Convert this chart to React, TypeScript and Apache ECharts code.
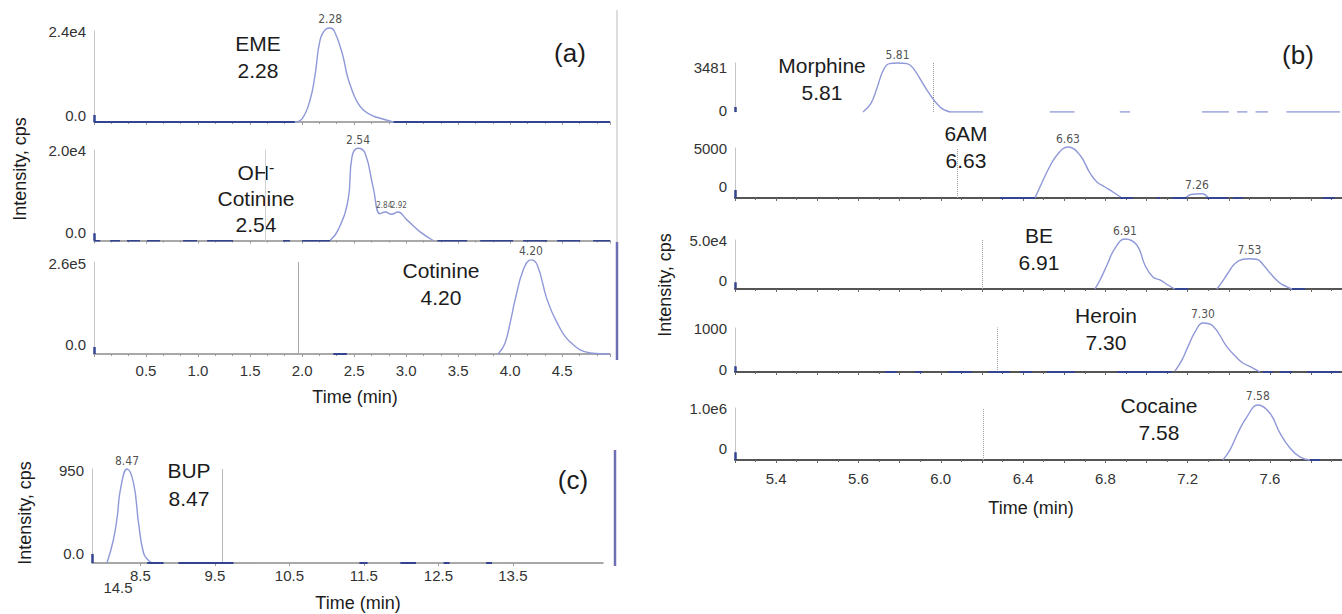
import React, { useEffect, useRef } from 'react';
import * as echarts from 'echarts';

// ---------------- DATA ----------------
const xTicksA = [0.5, 1.0, 1.5, 2.0, 2.5, 3.0, 3.5, 4.0, 4.5];
const xTickLabelsA = ['0.5', '1.0', '1.5', '2.0', '2.5', '3.0', '3.5', '4.0', '4.5'];
const xTicksB = [5.2, 5.6, 6.0, 6.4, 6.8, 7.2, 7.6];
const xTickLabelsB = ['5.4', '5.6', '6.0', '6.4', '6.8', '7.2', '7.6'];
const xTicksC = [8.5, 9.5, 10.5, 11.5, 12.5, 13.5];
const xTickLabelsC = ['8.5', '9.5', '10.5', '11.5', '12.5', '13.5'];
const strayLabelC = '14.5';

const yLabelsA = [['0.0', '2.4e4'], ['0.0', '2.0e4'], ['0.0', '2.6e5']];
const yMaxA = [24000, 20000, 260000];
const yLabelsB = [['0', '3481'], ['0', '5000'], ['0', '5.0e4'], ['0', '1000'], ['0', '1.0e6']];
const yMaxB = [3481, 5000, 50000, 1000, 1000000];
const yLabelsC = ['0.0', '950'];
const yMaxC = 950;

const emeTrace = [[1.93, 0], [2.0, 800], [2.077, 5800], [2.125, 12400], [2.173, 21600], [2.23, 24500], [2.27, 24800], [2.31, 24000], [2.385, 18200], [2.433, 12400], [2.462, 9800], [2.52, 5800], [2.587, 3200], [2.68, 1600], [2.75, 1000], [2.875, 0]];
const ohCotTrace = [[2.269, 0], [2.346, 2300], [2.442, 8900], [2.48, 18500], [2.538, 20400], [2.606, 19300], [2.683, 11800], [2.75, 5900], [2.80, 6300], [2.86, 5800], [2.92, 6300], [3.01, 4500], [3.135, 1900], [3.26, 0]];
const cotTrace = [[3.885, 0], [3.95, 30000], [4.0, 88000], [4.048, 153000], [4.125, 237000], [4.20, 266000], [4.26, 252000], [4.356, 153000], [4.452, 88000], [4.577, 34000], [4.77, 3000], [4.96, 0]];
const morphTrace = [[5.622, 0], [5.66, 600], [5.69, 1700], [5.72, 2950], [5.75, 3440], [5.79, 3481], [5.836, 3440], [5.865, 3130], [5.933, 1560], [5.996, 360], [6.045, 0]];
const sixAmTrace = [[6.458, 0], [6.482, 1100], [6.521, 2800], [6.565, 4300], [6.618, 5100], [6.676, 4300], [6.725, 2500], [6.759, 1600], [6.798, 1100], [6.837, 600], [6.88, 0]];
const sixAmMinorTrace = [[7.19, 0], [7.215, 350], [7.27, 420], [7.30, 0]];
const beTrace = [[6.749, 0], [6.774, 9200], [6.808, 24500], [6.847, 41800], [6.895, 51000], [6.953, 44900], [6.992, 24500], [7.031, 12200], [7.065, 9200], [7.104, 4100], [7.138, 0]];
const be753Trace = [[7.342, 0], [7.37, 8000], [7.396, 16300], [7.43, 26000], [7.468, 30400], [7.50, 30800], [7.536, 30400], [7.57, 24000], [7.60, 16300], [7.648, 6100], [7.68, 2500], [7.707, 0]];
const heroinTrace = [[7.138, 20], [7.172, 270], [7.201, 570], [7.236, 910], [7.274, 1114], [7.323, 1045], [7.391, 570], [7.44, 320], [7.468, 205], [7.517, 90], [7.551, 0]];
const cocaineTrace = [[7.371, 0], [7.405, 190000], [7.444, 520000], [7.488, 830000], [7.541, 1058000], [7.6, 900000], [7.648, 520000], [7.697, 230000], [7.745, 60000], [7.794, 0]];
const bupTrace = [[8.051, 0], [8.136, 230], [8.19, 475], [8.23, 737], [8.32, 950], [8.408, 808], [8.475, 402], [8.543, 98], [8.606, 28], [8.66, 0]];

const emeBase = [[0, 1.93], [2.88, 4.96]];
const ohCotBase = [[0, 0.06], [0.154, 0.25], [0.317, 0.442], [0.51, 0.635], [0.856, 0.99], [1.087, 1.337], [1.817, 1.885], [2.0, 2.27], [3.3, 3.587], [3.712, 4.029], [4.125, 4.356], [4.452, 4.673], [4.798, 4.96]];
const cotBase = [[2.3, 2.43]];
const morphBase = [[6.045, 6.205], [6.53, 6.65], [6.87, 6.92], [7.27, 7.40], [7.44, 7.49], [7.53, 7.59], [7.68, 7.94]];
const sixAmBase = [[6.288, 6.458], [6.871, 6.934], [7.05, 7.065], [7.123, 7.196], [7.293, 7.395], [7.42, 7.468], [7.857, 7.915]];
const beBase = [[7.138, 7.201], [7.707, 7.77]];
const heroinBase = [[5.729, 5.787], [5.875, 5.909], [6.035, 6.152], [6.229, 6.336], [6.385, 6.443], [6.516, 6.652], [6.856, 7.123], [7.566, 7.614], [7.648, 7.707], [7.78, 7.94]];
const cocaineBase = [[7.794, 7.843]];
const bupBase = [[8.59, 8.81], [9.01, 9.75], [11.44, 11.55], [11.99, 12.2], [12.57, 12.65], [13.14, 13.22]];

const stubsA = [1850, 1600, 20000];
const stubsB = [350, 800, 7000, 130, 150000];
const stubC = 90;

const markersA = [null, [1.644, 20600], [1.96, 260000]];
const markersB = [[5.962, 3481], [6.079, 5000], [6.20, 50000], [6.273, 1110], [6.205, 1000000]];
const markerC = [9.595, 950];

const emeTags = [[2.27, 24800, '2.28']];
const ohCotTags = [[2.538, 20400, '2.54']];
const ohCotMinorTags = [[2.79, 6300, '2.84'], [2.93, 6300, '2.92']];
const cotTags = [[4.20, 266000, '4.20']];
const morphTags = [[5.79, 3481, '5.81']];
const sixAmTags = [[6.618, 5100, '6.63'], [7.245, 420, '7.26']];
const beTags = [[6.895, 51000, '6.91'], [7.50, 30800, '7.53']];
const heroinTags = [[7.274, 1114, '7.30']];
const cocaineTags = [[7.541, 1058000, '7.58']];
const bupTags = [[8.32, 950, '8.47']];

const compoundLines = [['EME', '2.28'], ['OH-', 'Cotinine', '2.54'], ['Cotinine', '4.20'], ['Morphine', '5.81'], ['6AM', '6.63'], ['BE', '6.91'], ['Heroin', '7.30'], ['Cocaine', '7.58'], ['BUP', '8.47']];
const panelLetters = ['(a)', '(b)', '(c)'];
const axisTitleX = 'Time (min)';
const axisTitleY = 'Intensity, cps';

// ---------------- STYLE / LAYOUT ----------------
const FONT = '"Liberation Sans", Arial, Helvetica, sans-serif';
const NARROW = '"Liberation Sans Narrow", "DejaVu Sans Condensed", "Liberation Sans", sans-serif';
const TRACE = '#8f98d8';
const DARK = '#34448f';
const TEXT = '#1c1c1c';

const compoundPos = [[258, 43, 27], [256, 172, 26], [441, 270, 27], [822, 65, 27], [966, 133, 27], [1039, 235, 27], [1106, 315, 27], [1159, 405, 27], [189, 470, 28]];
const letterPos = [[570, 53], [1298, 55], [573, 480]];
const xTitlePos = [[355, 397], [1031, 508], [358, 603]];
const yTitlePos = [[20, 169], [665, 285], [25, 513]];

const axisCfg: any = {
  a: { min: 0, max: 4.96, interval: 0.5, minorSplit: 3, labelVals: xTicksA, labelTexts: xTickLabelsA, lineColor: '#8c8c8c', lineWidth: 1.5, margin: 9 },
  b: { min: 5.0, max: 7.95, interval: 0.2, minorSplit: 2, labelVals: xTicksB, labelTexts: xTickLabelsB, lineColor: '#555', lineWidth: 2, margin: 11 },
  c: { min: 7.85, max: 14.71, minorSplit: 0, labelVals: xTicksC, labelTexts: xTickLabelsC, lineColor: '#8c8c8c', lineWidth: 1.5, margin: 5 },
};

function buildOption() {
  const subs: any[] = [
    { panel: 'a', g: [94, 31, 516, 91], traces: [emeTrace], base: emeBase, baseColor: DARK, stub: stubsA[0], marker: markersA[0], tags: emeTags, minorTags: [], yMax: yMaxA[0], yLabels: yLabelsA[0], showLine: true, showLabels: false, lift: 7, drop: 0 },
    { panel: 'a', g: [94, 150, 516, 90.5], traces: [ohCotTrace], base: ohCotBase, baseColor: DARK, stub: stubsA[1], marker: markersA[1], tags: ohCotTags, minorTags: ohCotMinorTags, yMax: yMaxA[1], yLabels: yLabelsA[1], showLine: true, showLabels: false, lift: 8, drop: 0, markerColor: '#d0d0d0', markerType: 'solid' },
    { panel: 'a', g: [94, 262, 516, 92], traces: [cotTrace], base: cotBase, baseColor: DARK, stub: stubsA[2], marker: markersA[2], tags: cotTags, minorTags: [], yMax: yMaxA[2], yLabels: yLabelsA[2], showLine: true, showLabels: true, lift: 10, drop: 1, markerColor: '#a8a8a8', markerType: 'solid' },
    { panel: 'b', g: [735, 63, 607, 49], traces: [morphTrace], base: morphBase, baseColor: TRACE, baseWidth: 1.5, stub: stubsB[0], marker: markersB[0], tags: morphTags, minorTags: [], yMax: yMaxB[0], yLabels: yLabelsB[0], showLine: false, showLabels: false, lift: 2, drop: 4 },
    { panel: 'b', g: [735, 148, 607, 50], traces: [sixAmTrace, sixAmMinorTrace], base: sixAmBase, baseColor: DARK, stub: stubsB[1], marker: markersB[1], tags: sixAmTags, minorTags: [], yMax: yMaxB[1], yLabels: yLabelsB[1], showLine: true, showLabels: false, lift: 12, drop: 0 },
    { panel: 'b', g: [735, 240, 607, 49], traces: [beTrace, be753Trace], base: beBase, baseColor: DARK, stub: stubsB[2], marker: markersB[2], tags: beTags, minorTags: [], yMax: yMaxB[2], yLabels: yLabelsB[2], showLine: true, showLabels: false, lift: 9, drop: 0 },
    { panel: 'b', g: [735, 328, 607, 44], traces: [heroinTrace], base: heroinBase, baseColor: DARK, stub: stubsB[3], marker: markersB[3], tags: heroinTags, minorTags: [], yMax: yMaxB[3], yLabels: yLabelsB[3], showLine: true, showLabels: false, lift: 3, drop: 0 },
    { panel: 'b', g: [735, 408, 607, 52], traces: [cocaineTrace], base: cocaineBase, baseColor: DARK, stub: stubsB[4], marker: markersB[4], tags: cocaineTags, minorTags: [], yMax: yMaxB[4], yLabels: yLabelsB[4], showLine: true, showLabels: true, lift: 12, drop: 0 },
    { panel: 'c', g: [92, 469, 511, 94], traces: [bupTrace], base: bupBase, baseColor: DARK, stub: stubC, marker: markerC, tags: bupTags, minorTags: [], yMax: yMaxC, yLabels: yLabelsC, showLine: true, showLabels: true, lift: 10, drop: 1, markerColor: '#b8b8b8', markerType: 'solid' },
  ];

  const grid: any[] = [];
  const xAxis: any[] = [];
  const yAxis: any[] = [];
  const series: any[] = [];

  subs.forEach((s, i) => {
    const ax = axisCfg[s.panel];
    const xMin = ax.min;
    grid.push({ left: s.g[0], top: s.g[1], width: s.g[2], height: s.g[3], containLabel: false });
    const tickColor = s.panel === 'b' ? '#666' : '#9a9a9a';
    xAxis.push({
      type: 'value', gridIndex: i, min: xMin, max: ax.max,
      interval: ax.interval,
      axisLine: { show: s.showLine, onZero: true, lineStyle: { color: ax.lineColor, width: ax.lineWidth } },
      axisTick: { show: s.showLine, length: 3, lineStyle: { color: tickColor, width: 1 }, customValues: s.panel === 'c' ? ax.labelVals : undefined },
      minorTick: { show: s.showLine && !!ax.minorSplit, splitNumber: ax.minorSplit || 5, length: 2, lineStyle: { color: tickColor, width: 1 } },
      axisLabel: {
        show: s.showLabels, customValues: ax.labelVals, margin: ax.margin, fontSize: 15, color: '#333', fontFamily: FONT,
        formatter: (v: number) => {
          const idx = ax.labelVals.findIndex((t: number) => Math.abs(t - v) < 1e-6);
          return idx >= 0 ? ax.labelTexts[idx] : '';
        },
      },
      splitLine: { show: false }, minorSplitLine: { show: false },
    });
    // data axis (line only)
    const dataAxisIndex = yAxis.length;
    yAxis.push({
      type: 'value', gridIndex: i, min: 0, max: s.yMax, position: 'left',
      axisLine: { show: true, onZero: false, lineStyle: { color: '#c4c4c4', width: 1 } },
      axisTick: { show: false }, splitLine: { show: false }, axisLabel: { show: false },
    });
    // label axis: same grid, range shifted so the two labels sit where the figure prints them
    const h = s.g[3];
    const R = (s.yMax * h) / (h - s.drop - s.lift);
    const m0 = (-s.lift * R) / h;
    yAxis.push({
      type: 'value', gridIndex: i, min: m0, max: m0 + R, position: 'left', offset: 0,
      axisLine: { show: false, onZero: false }, axisTick: { show: false }, splitLine: { show: false },
      axisLabel: {
        show: true, customValues: [0, s.yMax], margin: 8, fontSize: 15, color: '#333', fontFamily: FONT,
        showMinLabel: true, showMaxLabel: true,
        formatter: (v: number) => (Math.abs(v) < 1e-9 ? s.yLabels[0] : s.yLabels[1]),
      },
    });

    s.traces.forEach((tr: number[][]) => {
      series.push({
        type: 'line', xAxisIndex: i, yAxisIndex: dataAxisIndex, data: tr, smooth: 0.45,
        symbol: 'none', clip: false, silent: true, z: 3,
        lineStyle: { color: TRACE, width: 1.4 },
      });
    });

    series.push({
      type: 'lines', coordinateSystem: 'cartesian2d', xAxisIndex: i, yAxisIndex: dataAxisIndex, silent: true, z: 4,
      data: s.base.map((seg: number[]) => ({ coords: [[seg[0], 0], [seg[1], 0]] })),
      lineStyle: { color: s.baseColor, width: s.baseWidth || 2, opacity: 1, curveness: 0 },
    });
    series.push({
      type: 'lines', coordinateSystem: 'cartesian2d', xAxisIndex: i, yAxisIndex: dataAxisIndex, silent: true, z: 5,
      data: [{ coords: [[xMin, 0], [xMin, s.stub]] }],
      lineStyle: { color: DARK, width: 2.5, opacity: 1, curveness: 0 },
    });
    if (s.marker) {
      series.push({
        type: 'lines', coordinateSystem: 'cartesian2d', xAxisIndex: i, yAxisIndex: dataAxisIndex, silent: true, z: 2,
        data: [{ coords: [[s.marker[0], 0], [s.marker[0], s.marker[1]]] }],
        lineStyle: { color: s.markerColor || '#9c9c9c', width: 1, opacity: 1, type: s.markerType || 'dotted', curveness: 0 },
      });
    }
    const tagSeries = (tags: any[], size: number) => ({
      type: 'scatter', xAxisIndex: i, yAxisIndex: dataAxisIndex, silent: true, clip: false, z: 6,
      symbolSize: 1, itemStyle: { color: 'rgba(0,0,0,0)' },
      data: tags.map((t: any[]) => ({ value: [t[0], t[1]], name: t[2] })),
      label: { show: true, position: 'top', distance: 2, formatter: '{b}', fontSize: size, color: '#222', fontFamily: NARROW },
    });
    series.push(tagSeries(s.tags, 12));
    if (s.minorTags.length) series.push(tagSeries(s.minorTags, 8));
  });

  const graphic: any[] = [];
  compoundLines.forEach((lines, k) => {
    const [cx, cy, step] = compoundPos[k];
    lines.forEach((ln, j) => {
      const isOH = ln === 'OH-';
      graphic.push({
        type: 'text', x: cx, y: cy + j * step, silent: true,
        style: isOH
          ? { text: '{a|OH}{b|-}', align: 'center', verticalAlign: 'middle', fill: TEXT, rich: { a: { fontSize: 21, fontFamily: FONT, fill: TEXT }, b: { fontSize: 16, fontFamily: FONT, fill: TEXT, padding: [0, 0, 10, 0] } } }
          : { text: ln, align: 'center', verticalAlign: 'middle', fontSize: 21, fontFamily: FONT, fill: TEXT },
      });
    });
  });
  panelLetters.forEach((t, k) => {
    graphic.push({ type: 'text', x: letterPos[k][0], y: letterPos[k][1], silent: true, style: { text: t, align: 'center', verticalAlign: 'middle', fontSize: 26, fontFamily: FONT, fill: TEXT } });
  });
  xTitlePos.forEach((p) => {
    graphic.push({ type: 'text', x: p[0], y: p[1], silent: true, style: { text: axisTitleX, align: 'center', verticalAlign: 'middle', fontSize: 18, fontFamily: FONT, fill: TEXT } });
  });
  yTitlePos.forEach((p) => {
    graphic.push({ type: 'text', x: p[0], y: p[1], rotation: Math.PI / 2, silent: true, style: { text: axisTitleY, align: 'center', verticalAlign: 'middle', fontSize: 18, fontFamily: FONT, fill: TEXT } });
  });
  graphic.push({ type: 'text', x: 118, y: 587, silent: true, style: { text: strayLabelC, align: 'center', verticalAlign: 'middle', fontSize: 15, fontFamily: FONT, fill: '#333' } });
  graphic.push({ type: 'line', silent: true, shape: { x1: 617, y1: 10, x2: 617, y2: 242 }, style: { stroke: '#d2d2d2', lineWidth: 1.5 } });
  graphic.push({ type: 'line', silent: true, shape: { x1: 617, y1: 242, x2: 617, y2: 360 }, style: { stroke: '#6f70b3', lineWidth: 2.5 } });
  graphic.push({ type: 'line', silent: true, shape: { x1: 615, y1: 450, x2: 615, y2: 566 }, style: { stroke: '#6f70b3', lineWidth: 2.5 } });

  return {
    animation: false,
    backgroundColor: '#ffffff',
    textStyle: { fontFamily: FONT },
    grid, xAxis, yAxis, series, graphic,
  };
}

export default function App() {
  const ref = useRef<HTMLDivElement>(null);
  useEffect(() => {
    if (!ref.current) return;
    const chart = echarts.init(ref.current, null, { renderer: 'svg' });
    chart.setOption(buildOption() as any);
    return () => chart.dispose();
  }, []);
  return <div ref={ref} style={{ position: 'fixed', left: 0, top: 0, width: 1342, height: 614, background: '#fff' }} />;
}
